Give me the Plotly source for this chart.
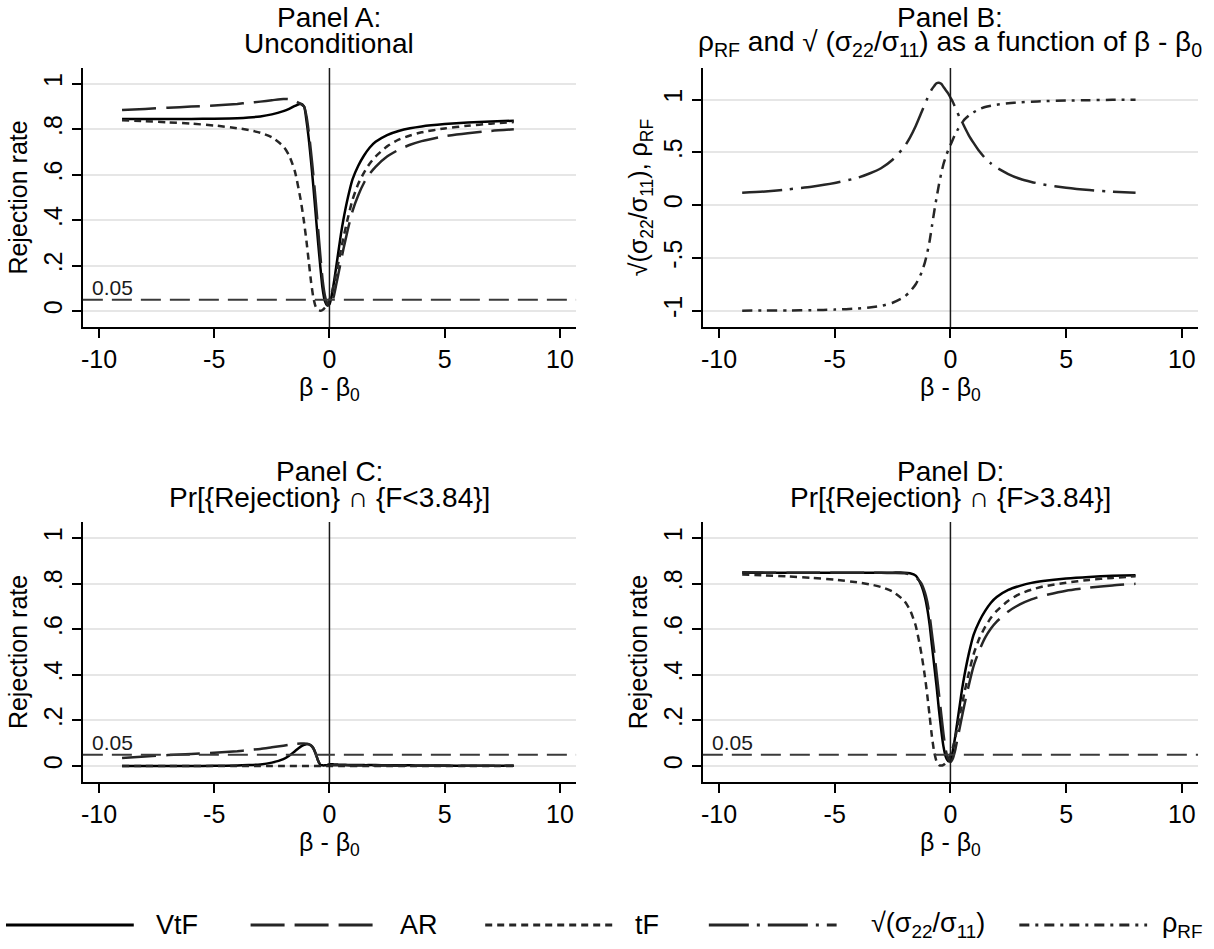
import plotly.graph_objects as go

# ---------------- data ----------------
beta = [-9, -8, -7, -6, -5, -4, -3.5, -3, -2.5, -2, -1.75, -1.5, -1.25, -1.1, -1.0,
        -0.9, -0.8, -0.7, -0.6, -0.5, -0.4, -0.3, -0.2, -0.1, 0, 0.1, 0.2, 0.3, 0.4,
        0.5, 0.6, 0.8, 1.0, 1.25, 1.5, 1.75, 2, 2.5, 3, 3.5, 4, 5, 6, 7, 8]

# Panel A: unconditional
a_vtf = [0.846, 0.846, 0.846, 0.846, 0.847, 0.849, 0.852, 0.857, 0.866, 0.880, 0.890, 0.903, 0.913, 0.900, 0.840,
         0.760, 0.660, 0.550, 0.430, 0.310, 0.200, 0.100, 0.045, 0.025, 0.030, 0.070, 0.130, 0.200, 0.270,
         0.340, 0.400, 0.500, 0.580, 0.640, 0.685, 0.720, 0.745, 0.775, 0.793, 0.805, 0.813, 0.823, 0.830, 0.835, 0.838]
a_ar = [0.885, 0.890, 0.895, 0.900, 0.905, 0.912, 0.917, 0.922, 0.928, 0.934, 0.933, 0.925, 0.912, 0.900, 0.860,
        0.790, 0.700, 0.600, 0.490, 0.370, 0.250, 0.140, 0.070, 0.030, 0.020, 0.035, 0.070, 0.120, 0.170,
        0.220, 0.270, 0.360, 0.440, 0.510, 0.565, 0.605, 0.635, 0.680, 0.710, 0.732, 0.748, 0.770, 0.783, 0.793, 0.800]
a_tf = [0.840, 0.836, 0.831, 0.825, 0.817, 0.805, 0.797, 0.785, 0.765, 0.725, 0.685, 0.615, 0.490, 0.390, 0.310,
        0.220, 0.130, 0.060, 0.020, 0.005, 0.002, 0.005, 0.015, 0.030, 0.050, 0.080, 0.120, 0.170, 0.220,
        0.270, 0.320, 0.410, 0.490, 0.560, 0.610, 0.650, 0.680, 0.725, 0.755, 0.773, 0.787, 0.804, 0.816, 0.825, 0.832]

# Panel B: rho_RF and sqrt(s22/s11)
b_sqrt = [0.117, 0.130, 0.150, 0.175, 0.210, 0.260, 0.300, 0.350, 0.430, 0.550, 0.640, 0.750, 0.880, 0.960, 1.010,
          1.060, 1.100, 1.130, 1.155, 1.160, 1.150, 1.120, 1.090, 1.060, 1.020, 0.980, 0.930, 0.880, 0.830,
          0.790, 0.745, 0.660, 0.590, 0.510, 0.445, 0.395, 0.355, 0.295, 0.250, 0.220, 0.197, 0.165, 0.143, 0.128, 0.117]
b_rho = [-1.000, -0.999, -0.998, -0.995, -0.990, -0.980, -0.970, -0.955, -0.925, -0.870, -0.820, -0.750, -0.640, -0.540, -0.450,
         -0.340, -0.200, -0.060, 0.070, 0.190, 0.300, 0.390, 0.460, 0.520, 0.570, 0.620, 0.670, 0.710, 0.750,
         0.780, 0.810, 0.850, 0.880, 0.910, 0.930, 0.942, 0.952, 0.965, 0.975, 0.981, 0.985, 0.991, 0.995, 0.998, 0.999]

# Panel C: Pr[{Rejection} and {F<3.84}]
c_vtf = [0.000, 0.000, 0.000, 0.000, 0.001, 0.002, 0.004, 0.007, 0.015, 0.030, 0.045, 0.065, 0.085, 0.093, 0.096,
         0.095, 0.090, 0.078, 0.055, 0.025, 0.006, 0.003, 0.003, 0.004, 0.008, 0.008, 0.007, 0.007, 0.006,
         0.006, 0.006, 0.005, 0.005, 0.005, 0.004, 0.004, 0.004, 0.003, 0.003, 0.003, 0.002, 0.002, 0.001, 0.001, 0.001]
c_ar = [0.035, 0.042, 0.048, 0.053, 0.058, 0.065, 0.070, 0.075, 0.082, 0.089, 0.093, 0.097, 0.099, 0.099, 0.098,
        0.096, 0.090, 0.078, 0.055, 0.025, 0.006, 0.003, 0.002, 0.002, 0.003, 0.003, 0.003, 0.003, 0.003,
        0.003, 0.003, 0.003, 0.002, 0.002, 0.002, 0.002, 0.002, 0.002, 0.001, 0.001, 0.001, 0.001, 0.001, 0.001, 0.001]
c_tf = [0.000, 0.000, 0.000, 0.000, 0.000, 0.000, 0.000, 0.000, 0.000, 0.000, 0.000, 0.000, 0.000, 0.000, 0.000,
        0.000, 0.000, 0.000, 0.000, 0.000, 0.000, 0.000, 0.000, 0.000, 0.000, 0.000, 0.000, 0.000, 0.000,
        0.000, 0.000, 0.000, 0.000, 0.000, 0.000, 0.000, 0.000, 0.000, 0.000, 0.000, 0.000, 0.000, 0.000, 0.000, 0.000]

# Panel D: Pr[{Rejection} and {F>3.84}]
d_vtf = [0.848, 0.848, 0.848, 0.848, 0.848, 0.848, 0.848, 0.848, 0.848, 0.848, 0.845, 0.835, 0.790, 0.740, 0.690,
         0.620, 0.530, 0.440, 0.350, 0.250, 0.160, 0.085, 0.040, 0.022, 0.025, 0.065, 0.125, 0.195, 0.265,
         0.335, 0.395, 0.495, 0.575, 0.635, 0.680, 0.716, 0.741, 0.772, 0.790, 0.803, 0.811, 0.822, 0.829, 0.834, 0.837]
d_ar = [0.850, 0.848, 0.847, 0.847, 0.847, 0.847, 0.847, 0.847, 0.846, 0.845, 0.840, 0.828, 0.800, 0.760, 0.720,
        0.660, 0.580, 0.500, 0.410, 0.320, 0.230, 0.140, 0.070, 0.030, 0.018, 0.032, 0.067, 0.117, 0.167,
        0.217, 0.267, 0.357, 0.438, 0.508, 0.563, 0.603, 0.633, 0.678, 0.709, 0.731, 0.747, 0.769, 0.782, 0.792, 0.799]
d_tf = [0.840, 0.836, 0.831, 0.825, 0.817, 0.805, 0.797, 0.785, 0.765, 0.725, 0.685, 0.615, 0.490, 0.390, 0.310,
        0.220, 0.130, 0.060, 0.020, 0.005, 0.002, 0.005, 0.015, 0.030, 0.050, 0.080, 0.120, 0.170, 0.220,
        0.270, 0.320, 0.410, 0.490, 0.560, 0.610, 0.650, 0.680, 0.725, 0.755, 0.773, 0.787, 0.804, 0.816, 0.825, 0.832]

x_ticks = [-10, -5, 0, 5, 10]
x_ticktext = ["-10", "-5", "0", "5", "10"]
rr_ticks = [0, 0.2, 0.4, 0.6, 0.8, 1]
rr_ticktext = ["0", ".2", ".4", ".6", ".8", "1"]
b_ticks = [-1, -0.5, 0, 0.5, 1]
b_ticktext = ["-1", "-.5", "0", ".5", "1"]
ref_level = 0.05

panel_titles = [("Panel A:", "Unconditional"),
                ("Panel B:", "ρ<sub>RF</sub> and √ (σ<sub>22</sub>/σ<sub>11</sub>) as a function of β - β<sub>0</sub>"),
                ("Panel C:", "Pr[{Rejection} ∩ {F<3.84}]"),
                ("Panel D:", "Pr[{Rejection} ∩ {F>3.84}]")]
legend_names = ["VtF", "AR", "tF", "√(σ<sub>22</sub>/σ<sub>11</sub>)", "ρ<sub>RF</sub>"]

# ---------------- styling ----------------
W, H = 1214, 949
FONT = "Liberation Sans, Arial, Helvetica, sans-serif"
styles = {
    "VtF": dict(color="black", width=2.5, dash="solid"),
    "AR": dict(color="#262626", width=2.5, dash="34px,10px"),
    "tF": dict(color="#262626", width=2.5, dash="7px,5px"),
    "sqrt": dict(color="#262626", width=2.5, dash="40px,8px,3px,8px"),
    "rho": dict(color="#262626", width=2.5, dash="10px,6px,3px,6px"),
}

def px_x(p):
    return p / W

def px_y(p):
    return 1 - p / H

col_dom = [(px_x(81), px_x(575)), (px_x(702), px_x(1198))]
row_pix = [(68, 327), (522, 782)]
row_dom = [(px_y(b), px_y(t)) for (t, b) in row_pix]

fig = go.Figure()

panels = [
    dict(col=0, row=0, series=[("VtF", a_vtf), ("AR", a_ar), ("tF", a_tf)], yr=[-0.07, 1.07],
         yt=rr_ticks, ytt=rr_ticktext, ytitle="Rejection rate", ref=True),
    dict(col=1, row=0, series=[("sqrt", b_sqrt), ("rho", b_rho)], yr=[-1.155, 1.30],
         yt=b_ticks, ytt=b_ticktext, ytitle="√(σ<sub>22</sub>/σ<sub>11</sub>), ρ<sub>RF</sub>", ref=False),
    dict(col=0, row=1, series=[("VtF", c_vtf), ("AR", c_ar), ("tF", c_tf)], yr=[-0.07, 1.07],
         yt=rr_ticks, ytt=rr_ticktext, ytitle="Rejection rate", ref=True),
    dict(col=1, row=1, series=[("VtF", d_vtf), ("AR", d_ar), ("tF", d_tf)], yr=[-0.07, 1.07],
         yt=rr_ticks, ytt=rr_ticktext, ytitle="Rejection rate", ref=True),
]

shapes = []
annotations = []
for i, p in enumerate(panels):
    n = i + 1
    xs = "x" if n == 1 else f"x{n}"
    ys = "y" if n == 1 else f"y{n}"
    xd = col_dom[p["col"]]
    yd = row_dom[p["row"]]
    for key, vals in p["series"]:
        st = styles[key]
        fig.add_trace(go.Scatter(x=beta, y=vals, mode="lines", xaxis=xs, yaxis=ys,
                                 line=dict(color=st["color"], width=st["width"], dash=st["dash"],
                                           shape="spline", smoothing=0.6),
                                 showlegend=False, hoverinfo="skip"))
    fig.layout[f"xaxis{'' if n == 1 else n}"] = dict(
        domain=list(xd), anchor=ys, range=[-10.7, 10.7], tickvals=x_ticks, ticktext=x_ticktext,
        showline=True, linecolor="black", linewidth=1.5, ticks="outside", ticklen=9, tickwidth=1.5,
        tickcolor="black", showgrid=False, zeroline=False, tickfont=dict(size=25, color="black"),
        title=dict(text="β - β<sub>0</sub>", font=dict(size=25, color="black"), standoff=4))
    fig.layout[f"yaxis{'' if n == 1 else n}"] = dict(
        domain=list(yd), anchor=xs, range=p["yr"], tickvals=p["yt"], ticktext=p["ytt"],
        showline=True, linecolor="black", linewidth=1.5, ticks="outside", ticklen=9, tickwidth=1.5,
        tickcolor="black", showgrid=True, gridcolor="#e6e6e6", gridwidth=2, zeroline=False,
        tickangle=-90, tickfont=dict(size=25, color="black"),
        title=dict(text=p["ytitle"], font=dict(size=25, color="black"), standoff=4))
    # vertical line at 0
    shapes.append(dict(type="line", xref=xs, yref=f"{ys} domain", x0=0, x1=0, y0=0, y1=1,
                       line=dict(color="#1a1a1a", width=1.5), layer="above"))
    if p["ref"]:
        shapes.append(dict(type="line", xref=f"{xs} domain", yref=ys, x0=0, x1=1, y0=ref_level, y1=ref_level,
                           line=dict(color="#3a3a3a", width=2, dash="20px,9px"), layer="above"))
        annotations.append(dict(text="0.05", xref=f"{xs} domain", yref=ys, x=0.015, y=ref_level,
                                xanchor="left", yanchor="bottom", showarrow=False, yshift=-1,
                                font=dict(size=21, color="#1a1a1a")))
    # titles
    t1, t2 = panel_titles[i]
    cx = (xd[0] + xd[1]) / 2
    top = row_pix[p["row"]][0]
    annotations.append(dict(text=t1, xref="paper", yref="paper", x=cx, y=px_y(top - 50.5),
                            xanchor="center", yanchor="middle", showarrow=False,
                            font=dict(size=28, color="black")))
    annotations.append(dict(text=t2, xref="paper", yref="paper", x=cx, y=px_y(top - 24.5),
                            xanchor="center", yanchor="middle", showarrow=False,
                            font=dict(size=28, color="black")))

# manual legend with long keys
leg_y = px_y(925)
leg_keys = ["VtF", "AR", "tF", "sqrt", "rho"]
leg_line_x = [(4, 132), (249, 377), (484, 612), (708, 836), (1019, 1147)]
leg_text_x = [152, 397, 632, 868, 1160]
for key, name, (l0, l1), tx in zip(leg_keys, legend_names, leg_line_x, leg_text_x):
    st = styles[key]
    shapes.append(dict(type="line", xref="paper", yref="paper", x0=px_x(l0), x1=px_x(l1), y0=leg_y, y1=leg_y,
                       line=dict(color=st["color"], width=3, dash=st["dash"])))
    annotations.append(dict(text=name, xref="paper", yref="paper", x=px_x(tx), y=leg_y,
                            xanchor="left", yanchor="middle", showarrow=False,
                            font=dict(size=27, color="black")))

fig.update_layout(width=W, height=H, margin=dict(l=0, r=0, t=0, b=0),
                  paper_bgcolor="white", plot_bgcolor="white",
                  font=dict(family=FONT, color="black"),
                  shapes=shapes, annotations=annotations, showlegend=False)

fig.write_html("out.html")
